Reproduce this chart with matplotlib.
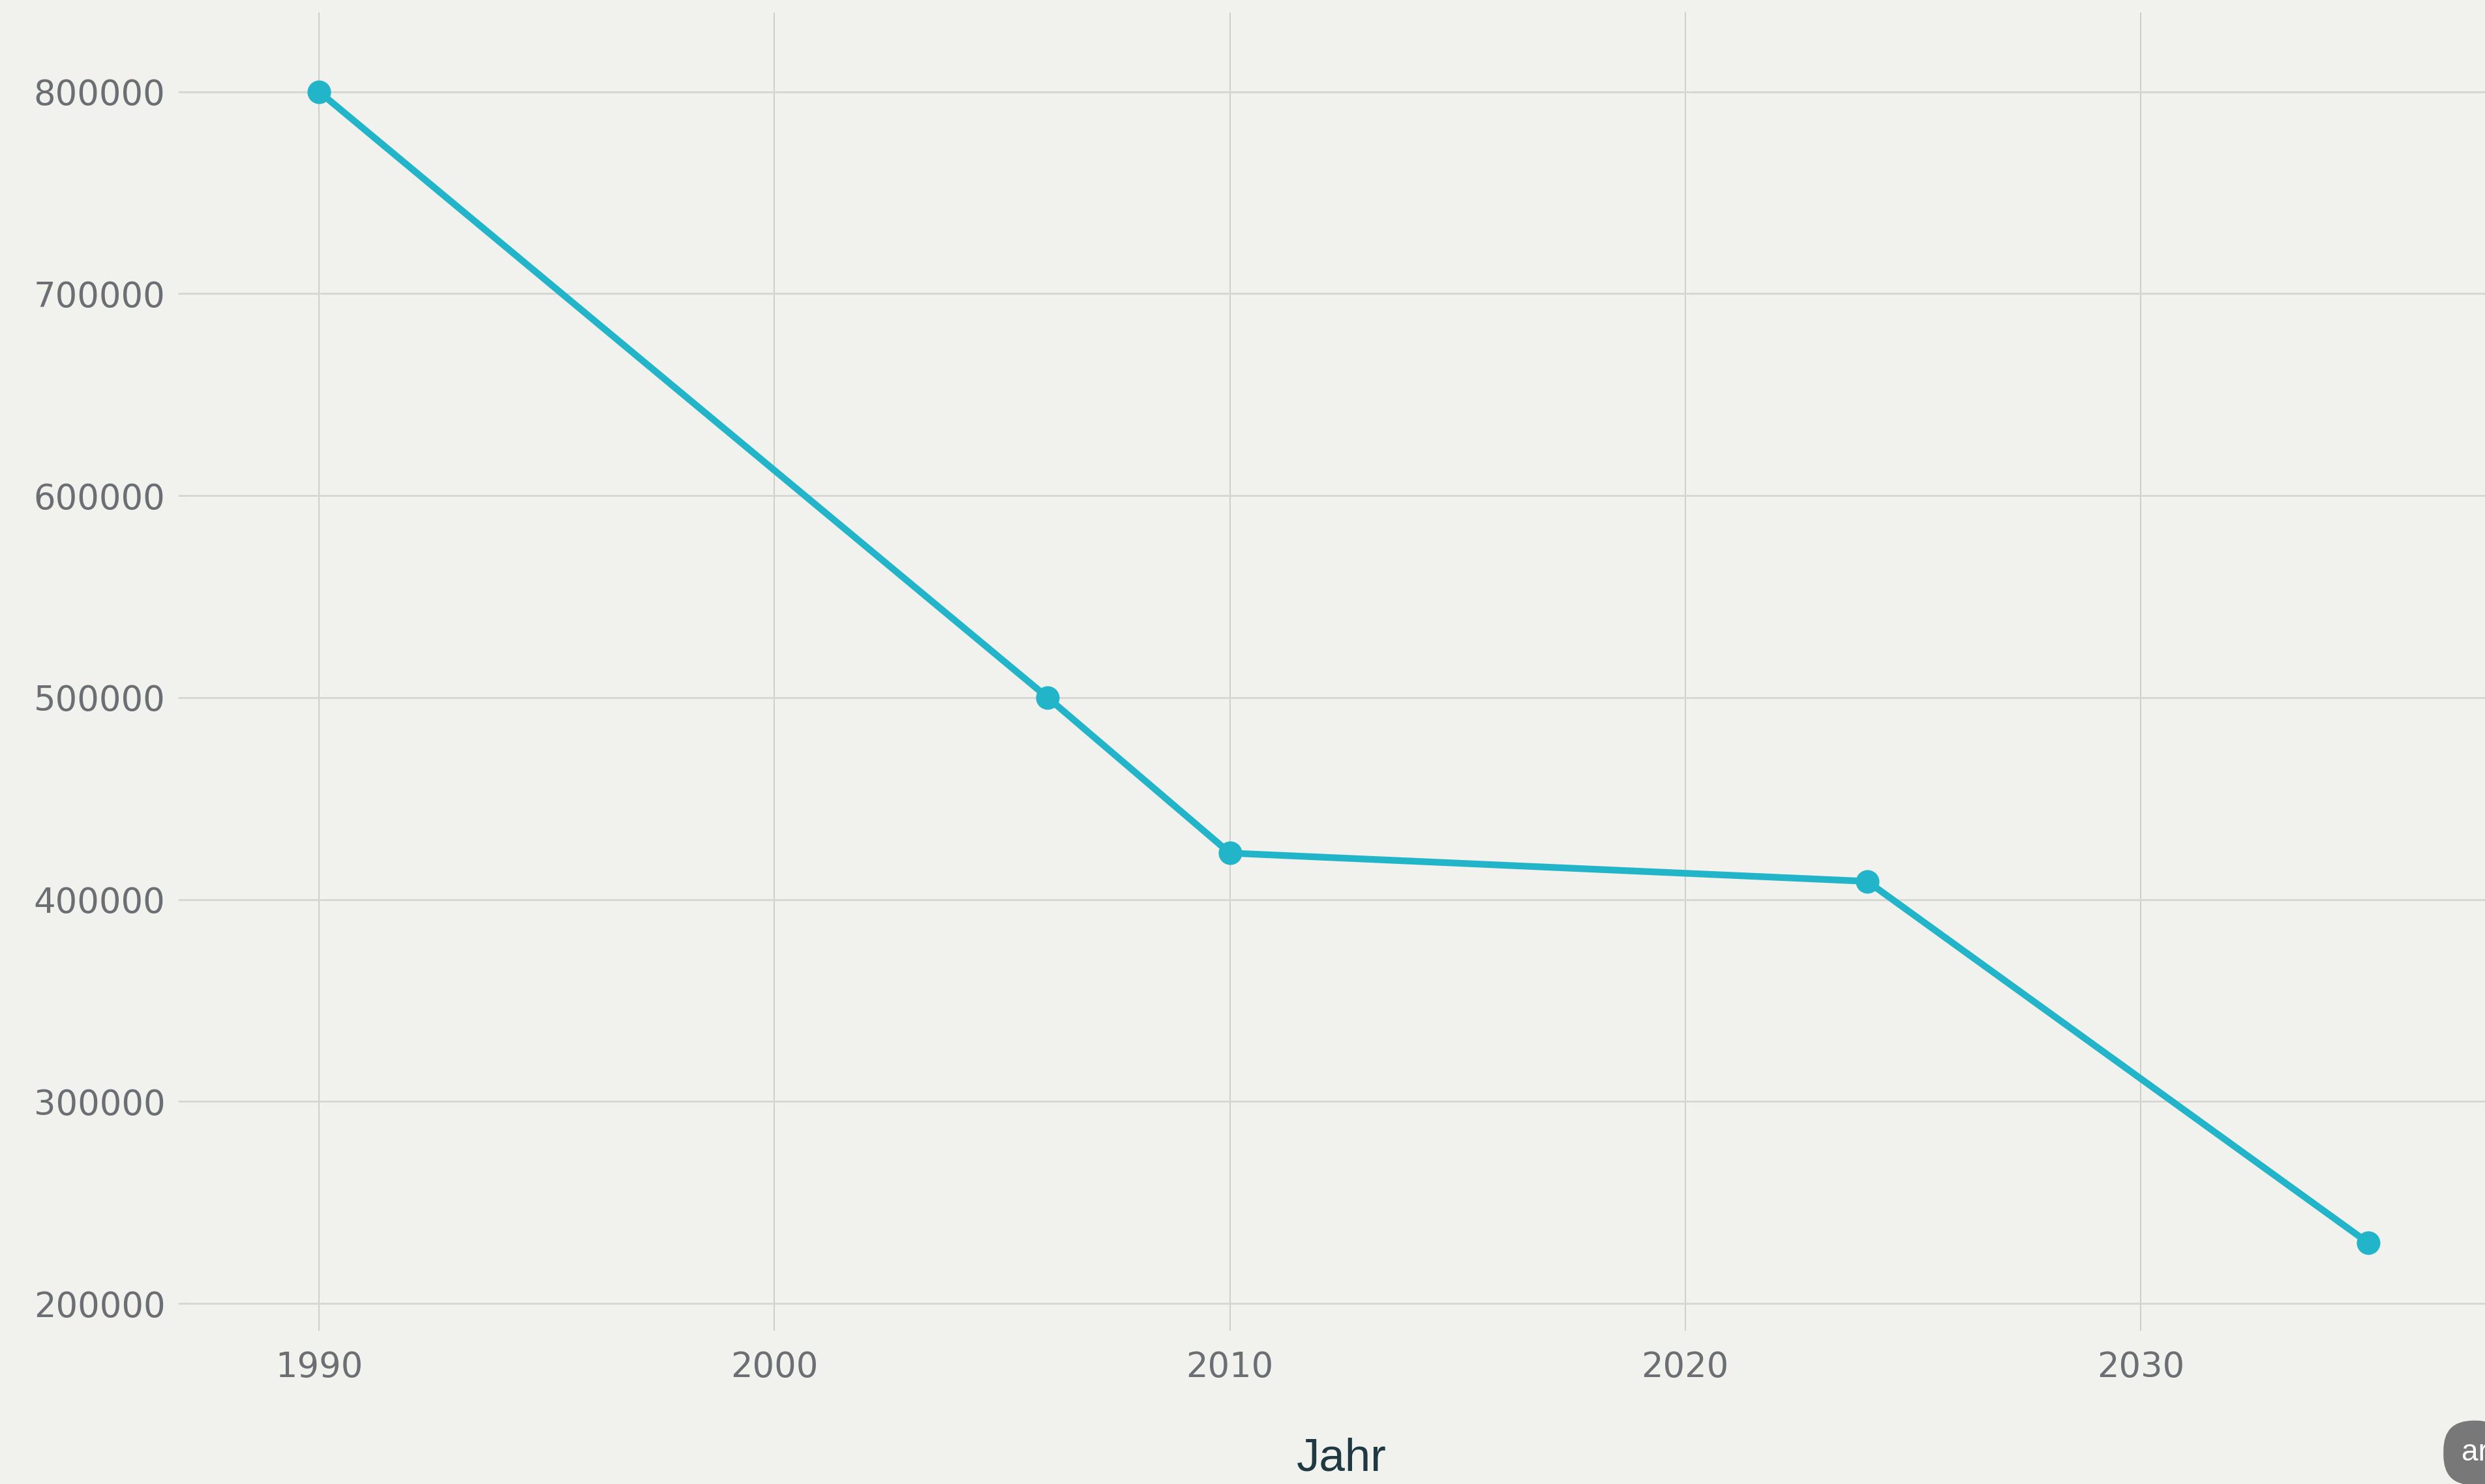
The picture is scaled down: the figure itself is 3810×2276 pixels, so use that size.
import matplotlib
matplotlib.use("Agg")
import matplotlib.pyplot as plt

# data
years = [1990, 2006, 2010, 2024, 2035]
values = [800000, 500000, 423000, 409000, 230000]
xticks = [1990, 2000, 2010, 2020, 2030]
yticks = [200000, 300000, 400000, 500000, 600000, 700000, 800000]
xlabel = "Jahr"

bg = "#f1f1ed"
teal = "#22b5ca"

plt.rcParams["font.family"] = ["Liberation Sans", "DejaVu Sans"]

fig = plt.figure(figsize=(38.1, 22.76), dpi=100, facecolor=bg)
ax = fig.add_axes([0.0753, 0.110, 0.929, 0.8815])
ax.set_facecolor(bg)

ax.plot(years, values, color=teal, linewidth=7.4, marker="o",
        markersize=26, markeredgewidth=0, solid_capstyle="round", zorder=3)

ax.set_xlim(1987.1, 2037.8)
ax.set_ylim(191400, 839200)
ax.set_xticks(xticks)
ax.set_yticks(yticks)
ax.set_xticklabels([str(x) for x in xticks])
ax.set_yticklabels([str(y) for y in yticks])
for t in ax.get_xticklabels() + ax.get_yticklabels():
    t.set_fontfamily(["DejaVu Sans"])

ax.grid(axis="y", color="#d6d6d3", linewidth=2.0)
ax.grid(axis="x", color="#cbcbc8", linewidth=1.3)
ax.set_axisbelow(True)
for s in ax.spines.values():
    s.set_visible(False)

ax.tick_params(axis="y", length=10, width=2.0, color="#d6d6d3", pad=14,
               labelsize=38, labelcolor="#6b6f73")
ax.tick_params(axis="x", length=11, width=1.3, color="#cbcbc8", pad=22,
               labelsize=38, labelcolor="#6b6f73")

ax.set_xlabel(xlabel, fontsize=51, color="#1f3942", va="center")
ax.xaxis.set_label_coords(0.5, -0.1054)

# cut-off badge in the bottom right corner
fig.text(0.9905, 0.021, "ar", fontsize=33, color="white", ha="left", va="center",
         bbox=dict(boxstyle="round,pad=0.6,rounding_size=1.0", fc="#787878", ec="none"))

fig.savefig("out.png", dpi=100, facecolor=bg)
